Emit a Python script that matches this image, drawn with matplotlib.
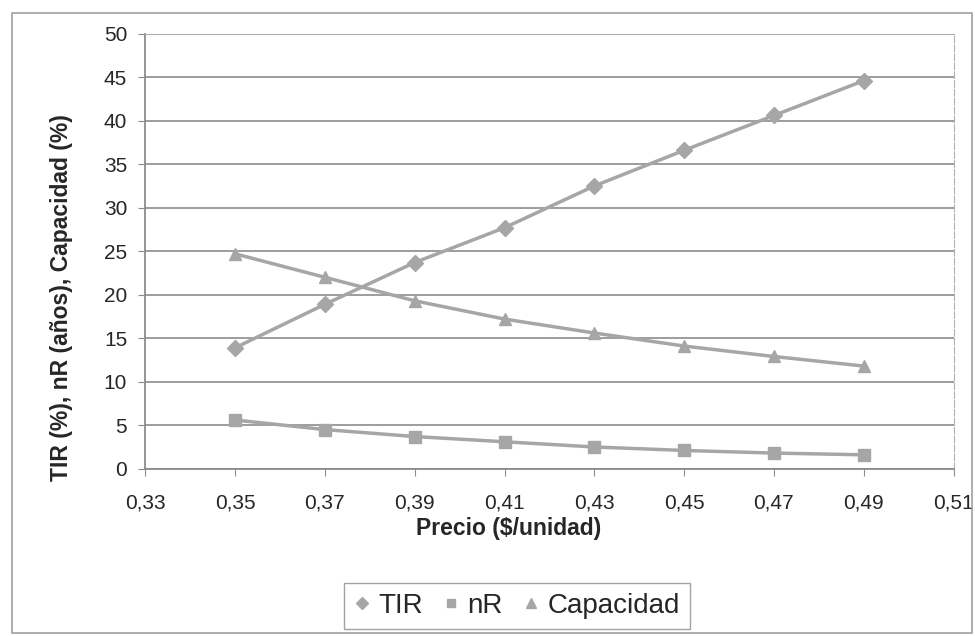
import matplotlib
matplotlib.use("Agg")
import matplotlib.pyplot as plt
from matplotlib.patches import Rectangle
from matplotlib.ticker import FuncFormatter

plt.rcParams['font.family'] = ['Liberation Sans', 'DejaVu Sans']

# Datos: precio de venta vs. indicadores
precio = [0.35, 0.37, 0.39, 0.41, 0.43, 0.45, 0.47, 0.49]
tir = [13.9, 18.9, 23.7, 27.7, 32.5, 36.6, 40.6, 44.6]
nr = [5.6, 4.5, 3.7, 3.1, 2.5, 2.1, 1.8, 1.6]
capacidad = [24.7, 22.0, 19.3, 17.2, 15.6, 14.1, 12.9, 11.8]

gris = '#a6a6a6'
texto = '#262626'

fig = plt.figure(figsize=(9.75, 6.36), dpi=100)
ax = fig.add_axes([0.149, 0.263, 0.829, 0.684])

ax.plot(precio, tir, color=gris, lw=2.5, marker='D', ms=8, label='TIR')
ax.plot(precio, nr, color=gris, lw=2.5, marker='s', ms=8, label='nR')
ax.plot(precio, capacidad, color=gris, lw=2.5, marker='^', ms=9, label='Capacidad')

ax.set_xlim(0.33, 0.51)
ax.set_ylim(0, 50)
ax.set_xticks([0.33 + 0.02 * i for i in range(10)])
ax.set_yticks(range(0, 51, 5))
ax.xaxis.set_major_formatter(FuncFormatter(lambda v, p: f'{v:.2f}'.replace('.', ',')))
ax.grid(axis='y', color='#8c8c8c', lw=1.2)
ax.set_axisbelow(True)
for s in ['top', 'right']:
    ax.spines[s].set_color('#b0b0b0')
    ax.spines[s].set_linestyle((0, (6, 2)))
for s in ['left', 'bottom']:
    ax.spines[s].set_color('#8c8c8c')
    ax.spines[s].set_linewidth(1.3)
ax.tick_params(direction='out', length=5, color='#8c8c8c', labelsize=15,
               labelcolor=texto)
ax.tick_params(axis='x', pad=13)
ax.tick_params(axis='y', pad=8)

ax.set_xlabel('Precio ($/unidad)', fontsize=16.5, fontweight='bold', color=texto)
ax.set_ylabel('TIR (%), nR (años), Capacidad (%)', fontsize=16.5, fontweight='bold',
              color=texto)
ax.xaxis.set_label_coords(0.450, -0.110)
ax.yaxis.set_label_coords(-0.090, 0.393)

leg = fig.legend(loc='center', bbox_to_anchor=(0.53, 0.047), ncol=3, fontsize=20,
                 frameon=True, fancybox=False, handlelength=0.6, handletextpad=0.3,
                 columnspacing=0.7, borderpad=0.35, markerscale=0.75)
leg.get_frame().set_edgecolor('#8c8c8c')
leg.get_frame().set_linewidth(1.0)
for line in leg.get_lines():
    line.set_linestyle('none')
for t in leg.get_texts():
    t.set_color(texto)

# marco exterior del gráfico
fig.patches.append(Rectangle((0.012, 0.004), 0.985, 0.975, transform=fig.transFigure,
                             fill=False, edgecolor='#a0a0a0', lw=1.2))

fig.savefig('out.png', dpi=100)
